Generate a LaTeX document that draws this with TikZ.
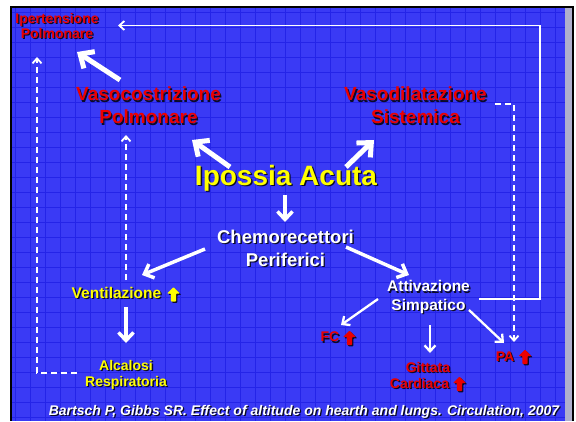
\documentclass[tikz,border=0pt]{standalone}
\usepackage{fontspec}
\setmainfont{Liberation Sans}
\usetikzlibrary{arrows.meta,calc}
\definecolor{bgblue}{RGB}{58,58,245}
\definecolor{gridblue}{RGB}{36,36,232}
\definecolor{txtred}{RGB}{235,0,0}
\definecolor{txtyel}{RGB}{255,255,0}
\definecolor{shad}{RGB}{10,10,40}
\definecolor{greystrip}{RGB}{175,175,205}
\newcommand{\shnode}[5]{%
  \node[lbl,font={#4},text=shad,xshift=1.3pt,yshift=-1.3pt] (#1-s) at #2 {#5};
  \node[lbl,font={#4},text=#3] (#1) at #2 {#5};}
\newcommand{\fs}[2]{\fontsize{#1}{#2}\selectfont\bfseries}
\tikzset{
  lbl/.style={inner sep=0pt,align=center},
  uparr/.pic={\fill[rounded corners=0.8pt,pic actions] (0,-7.5) -- (6.5,-1) -- (2.6,-1) -- (2.6,7) -- (-2.6,7) -- (-2.6,-1) -- (-6.5,-1) -- cycle;},
  bigarrow/.style={draw=white,line width=5pt,-{Straight Barb[length=11pt,width=20pt]}},
  medarrow/.style={draw=white,line width=3.5pt,-{Straight Barb[length=8pt,width=15pt]}},
  smallarrow/.style={draw=white,line width=2.3pt,-{Straight Barb[length=6pt,width=11pt]}},
  dasharrow/.style={draw=white,line width=1.8pt,dash pattern=on 6pt off 4pt,-{Straight Barb[length=5pt,width=9pt]}},
  thinline/.style={draw=white,line width=1.8pt,-{Straight Barb[length=5pt,width=9pt]}},
}
\begin{document}
\begin{tikzpicture}[x=1pt,y=-1pt]
\useasboundingbox (0,0) rectangle (576,421);
\fill[white] (0,0) rectangle (576,421);
% slide
\fill[bgblue] (11,7) rectangle (572,421);
\foreach \i in {0,...,36} {\draw[gridblue,line width=1pt] (15+15*\i,7) -- (15+15*\i,421);}
\foreach \j in {0,...,27} {\draw[gridblue,line width=1pt] (11,12+15*\j) -- (565,12+15*\j);}
\fill[greystrip] (565,7) rectangle (572,421);
\fill[black] (10,6) rectangle (12,421);
\fill[black] (10,6) rectangle (574,8);
\fill[black] (572,6) rectangle (574,421);
% texts
\shnode{ipert}{(57,26)}{txtred}{\fs{14}{15}}{Ipertensione\\Polmonare}
\shnode{vasoc}{(148.5,105.5)}{txtred}{\fs{19}{23}}{Vasocostrizione\\Polmonare}
\shnode{vasod}{(415.5,105.5)}{txtred}{\fs{19}{23}}{Vasodilatazione\\Sistemica}
\shnode{ipos}{(286,178)}{txtyel}{\fs{28}{30}}{Ipossia Acuta}
\shnode{chemo}{(285.5,248)}{white}{\fs{18.5}{23}}{Chemorecettori\\Periferici}
\shnode{vent}{(116.5,293)}{txtyel}{\fs{15.5}{18}}{Ventilazione}
\shnode{alc}{(126,375)}{txtyel}{\fs{14}{16}}{Alcalosi\\Respiratoria}
\shnode{attiv}{(428.5,297)}{white}{\fs{15.5}{18.5}}{Attivazione\\Simpatico}
\shnode{fc}{(330,337)}{txtred}{\fs{14}{16}}{FC}
\shnode{gitt}{(428,375)}{txtred}{\fs{14}{16}}{Gittata\\Cardiaca\hspace*{17pt}}
\shnode{pa}{(505,356.5)}{txtred}{\fs{14}{16}}{PA}
\shnode{cite}{(304,412)}{white}{\fs{14}{16}\itshape}{Bartsch P, Gibbs SR. Effect of altitude on hearth and lungs. Circulation, 2007}
% up arrows
\pic[fill=shad] at (174.8,295.8) {uparr};
\pic[fill=txtyel] at (173.5,294.5) {uparr};
\pic[fill=shad] at (350.8,339.3) {uparr};
\pic[fill=txtred] at (349.5,338) {uparr};
\pic[fill=shad] at (460.8,385.3) {uparr};
\pic[fill=txtred] at (459.5,384) {uparr};
\pic[fill=shad] at (526.3,358.3) {uparr};
\pic[fill=txtred] at (525,357) {uparr};
% arrows
\draw[bigarrow] ($(vasoc)+(-28.5,-25.5)$) -- ($(ipert)+(20,26)$);
\draw[bigarrow] ($(ipos)+(-56,-11)$) -- ($(vasoc)+(43.5,34.5)$);
\draw[bigarrow] ($(ipos)+(60,-11)$) -- ($(vasod)+(-41.5,34.5)$);
\draw[medarrow] ($(ipos)+(-1,17)$) -- ($(chemo)+(-0.5,-26)$);
\draw[medarrow] ($(chemo)+(-80.5,1)$) -- ($(vent)+(25.5,-18)$);
\draw[medarrow] ($(chemo)+(60.5,-1)$) -- ($(attiv)+(-19.5,-22)$);
\draw[medarrow] ($(vent)+(9.5,14)$) -- ($(alc)+(0,-32)$);
\draw[smallarrow] ($(attiv)+(-50.5,2)$) -- ($(fc)+(11,-12)$);
\draw[smallarrow] ($(attiv)+(1.5,28)$) -- ($(gitt)+(2,-22)$);
\draw[smallarrow] ($(attiv)+(40.5,13)$) -- ($(pa)+(-1,-13.5)$);
% dashed feedback
\draw[dasharrow] ($(alc)+(-49,-2)$) -| ($(ipert)+(-20,31)$);
\draw[dasharrow] ($(vent)+(9.5,-13)$) -- ($(vasoc)+(-22.5,29.5)$);
\draw[dasharrow] ($(vasod)+(79.5,-1.5)$) -| ($(pa)+(9,-14.5)$);
\draw[thinline] ($(attiv)+(50.5,2)$) -| ($(ipert)+(483,-0.5)$) -- ($(ipert)+(61,-0.5)$);
\end{tikzpicture}
\end{document}
